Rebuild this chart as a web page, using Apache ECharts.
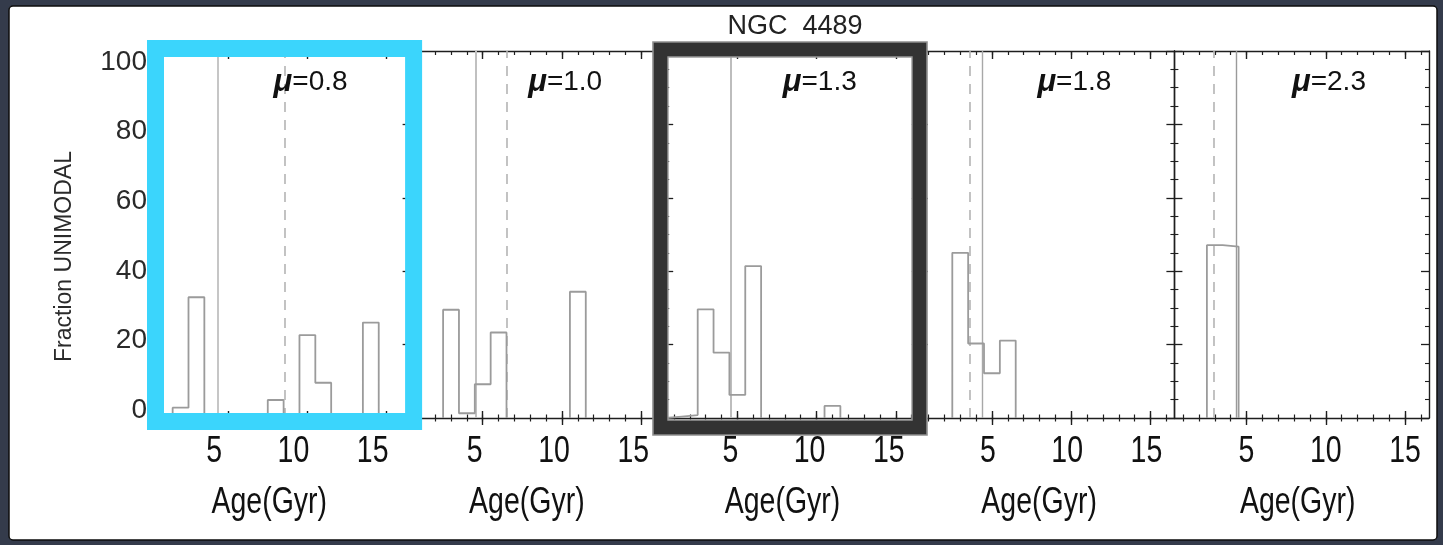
<!DOCTYPE html>
<html>
<head>
<meta charset="utf-8">
<script src="https://cdn.jsdelivr.net/npm/echarts@6/dist/echarts.min.js"></script>
<style>
html,body{margin:0;padding:0;background:#343b4b;}
#c{width:1443px;height:545px;}
</style>
</head>
<body>
<div id="c"></div>
<script>
// ---------------- DATA ----------------
const titleText = 'NGC  4489';
const xName = 'Age(Gyr)';
const yName = 'Fraction UNIMODAL';
const ageBinCenters = [1, 2, 3, 4, 5, 6, 7, 8, 9, 10, 11, 12, 13, 14, 15, 16];
const panelMu = ['0.8', '1.0', '1.3', '1.8', '2.3'];
const fracMu08 = [0, 2.8, 32.9, 0, 0, 0, 0, 4.9, 0, 22.6, 9.6, 0, 0, 26.0, 0, 0];
const fracMu10 = [0, 0, 29.5, 1.3, 9.2, 23.3, 0, 0, 0, 0, 34.4, 0, 0, 0, 0, 0];
const fracMu13 = [0.4, 0.8, 29.6, 17.8, 6.3, 41.4, 0, 0, 0, 0, 3.3, 0, 0, 0, 0, 0];
const fracMu18 = [0, 0, 45.0, 20.3, 12.2, 21.1, 0, 0, 0, 0, 0, 0, 0, 0, 0, 0];
const fracMu23 = [0, 0, 47.1, 46.7, 0, 0, 0, 0, 0, 0, 0, 0, 0, 0, 0, 0];
const solidLineAge = [4.37, 4.55, 4.58, 4.37, 4.34];
const dashedLineAge = [8.6, 6.5, null, 3.62, 2.94];
const xTickLabels = [5, 10, 15];
const xMinorTicks = [1, 2, 3, 4, 5, 6, 7, 8, 9, 10, 11, 12, 13, 14, 15, 16];
const yTickLabels = [0, 20, 40, 60, 80, 100];
const panelValues = [fracMu08, fracMu10, fracMu13, fracMu18, fracMu23];

// ---------------- LAYOUT / STYLE ----------------
const BIN_W = 1;
const X_MIN = 0.45, X_MAX = 16.51;
const GRID_LEFT0 = 156, GRID_W = 254.6, GRID_TOP = 51, GRID_H = 367;
const MU_X = 10.2, MU_Y = 91.5;
const AX = '#1e1e1e';
const SANS = "'Liberation Sans','Helvetica',Arial,sans-serif";
const LABEL_SHIFT = [14, 8, 7, 4, 0];
const NAME_SHIFT = [14, 11, 10, 8, 4];
const LABEL_DY = 34, NAME_DY = 85, NARROW_SCALE = 0.77, BIG_FONT = 37;
const HIST_COLOR = '#9b9b9b';
const REF_SOLID = ['#c6c6c6', '#c0c0c0', '#bdbdbd', '#a8a8a8', '#9a9a9a'];
const REF_DASH = '#b4b4b4';

function histPoints(vals) {
  const pts = [];
  let inRun = false;
  for (let k = 0; k < ageBinCenters.length; k++) {
    const v = vals[k];
    const lo = ageBinCenters[k] - BIN_W / 2, hi = ageBinCenters[k] + BIN_W / 2;
    if (v > 0) {
      if (!inRun) { pts.push([lo, 0]); inRun = true; }
      pts.push([lo, v]); pts.push([hi, v]);
    } else if (inRun) {
      pts.push([lo, 0]); pts.push(null); inRun = false;
    }
  }
  if (inRun) pts.push([ageBinCenters[ageBinCenters.length - 1] + BIN_W / 2, 0]);
  return pts;
}

function tickAxis(gi, pos, offset, len, values, width) {
  return {
    gridIndex: gi, type: 'value', min: X_MIN, max: X_MAX, position: pos, offset: offset,
    axisLine: { show: false, onZero: false },
    axisTick: { show: true, inside: true, length: len, customValues: values, lineStyle: { color: AX, width: width || 1.2 } },
    axisLabel: { show: false }, splitLine: { show: false }
  };
}

const grids = [], xAxes = [], yAxes = [], series = [];
const xMainIdx = [], yMainIdx = [];
for (let i = 0; i < 5; i++) {
  const left = GRID_LEFT0 + i * GRID_W;
  grids.push({ left: left, top: GRID_TOP, width: GRID_W, height: GRID_H, show: false });
  const xMain = xAxes.length;
  xMainIdx.push(xMain);
  xAxes.push({
    gridIndex: i, type: 'value', min: X_MIN, max: X_MAX, position: 'bottom',
    axisLine: { show: true, onZero: false, lineStyle: { color: AX, width: 1.4 } },
    axisTick: { show: false }, splitLine: { show: false }, axisLabel: { show: false }
  });
  xAxes.push(tickAxis(i, 'bottom', 3.5, 7, xMinorTicks));
  xAxes.push(tickAxis(i, 'bottom', 7, 14, xTickLabels, 1.4));
  xAxes.push({
    gridIndex: i, type: 'value', min: X_MIN, max: X_MAX, position: 'top',
    axisLine: { show: true, onZero: false, lineStyle: { color: AX, width: 1.4 } },
    axisTick: { show: true, inside: true, length: 4, customValues: xMinorTicks, lineStyle: { color: AX, width: 1.2 } },
    axisLabel: { show: false }, splitLine: { show: false }
  });
  xAxes.push(tickAxis(i, 'top', 0, 8, xTickLabels, 1.4));

  const yMain = yAxes.length;
  yMainIdx.push(yMain);
  const yBase = {
    gridIndex: i, type: 'value', min: 0, max: 100, interval: 20,
    axisLine: { show: true, onZero: false, lineStyle: { color: AX, width: 1.4 } },
    axisTick: { show: true, inside: true, length: 8, lineStyle: { color: AX, width: 1.3 } },
    minorTick: { show: true, splitNumber: 4, length: 4, lineStyle: { color: AX, width: 1.1 } },
    axisLabel: { show: false }, splitLine: { show: false }, minorSplitLine: { show: false }
  };
  yAxes.push(Object.assign({}, yBase, { position: 'left' }));
  yAxes.push(Object.assign({}, yBase, { position: 'right' }));
  if (i === 0) {
    yAxes.push({
      gridIndex: 0, type: 'value', min: -2.3, max: 103.2, position: 'left',
      axisLine: { show: false, onZero: false }, axisTick: { show: false }, splitLine: { show: false },
      axisLabel: { show: true, customValues: yTickLabels, margin: 9, fontSize: 28, fontFamily: SANS, color: '#2a2a2a' },
      name: yName, nameLocation: 'middle', nameGap: 80, nameRotate: 90,
      nameTextStyle: { fontSize: 23, fontFamily: SANS, color: '#2a2a2a', padding: [0, 44, 0, 0] }
    });
  }

  const mlData = [{ xAxis: solidLineAge[i], lineStyle: { type: 'solid', color: REF_SOLID[i], width: i < 3 ? 2 : 1.4 } }];
  if (dashedLineAge[i] !== null) {
    mlData.push({ xAxis: dashedLineAge[i], lineStyle: { type: [10, 8], color: REF_DASH, width: 1.6 } });
  }
  series.push({
    type: 'line', xAxisIndex: xMain, yAxisIndex: yMain, data: histPoints(panelValues[i]),
    showSymbol: false, symbol: 'none', connectNulls: false, silent: true, z: 3,
    lineStyle: { color: HIST_COLOR, width: 1.8 },
    markLine: { silent: true, symbol: ['none', 'none'], label: { show: false }, data: mlData, z: 2 }
  });
  series.push({
    type: 'scatter', xAxisIndex: xMain, yAxisIndex: yMain, data: [[MU_X, MU_Y]],
    symbolSize: 1, itemStyle: { color: 'rgba(0,0,0,0)', opacity: 1 }, silent: true,
    label: {
      show: true, position: 'inside', opacity: 1,
      formatter: '{m|\u03bc}{t|=' + panelMu[i] + '}',
      rich: {
        m: { fontSize: 31, fontStyle: 'italic', fontWeight: 'bold', fontFamily: SANS, color: '#111' },
        t: { fontSize: 28, fontFamily: SANS, color: '#111' }
      }
    }
  });
}

const g0L = GRID_LEFT0, g2L = GRID_LEFT0 + 2 * GRID_W;
const graphics = [
  { type: 'rect', z: -10, shape: { x: 9, y: 6, width: 1428, height: 534, r: 4 },
    style: { fill: '#ffffff', stroke: '#0d0d0d', lineWidth: 1.5 } },
  { type: 'text', z: 50, x: 795, y: 27,
    style: { text: titleText, fontSize: 27, fontFamily: SANS, fill: '#222', align: 'center', verticalAlign: 'middle' } },
  { type: 'rect', z: 100, shape: { x: g0L - 0.5, y: GRID_TOP - 2.5, width: GRID_W + 3.5, height: GRID_H + 6 },
    style: { fill: 'none', stroke: '#3bd5fc', lineWidth: 17 } },
  { type: 'rect', z: 100, shape: { x: g2L - 4.7, y: GRID_TOP - 1.5, width: GRID_W + 4.4, height: GRID_H + 11 },
    style: { fill: 'none', stroke: '#333333', lineWidth: 15 } },
  { type: 'rect', z: 101, shape: { x: g2L - 12.2, y: GRID_TOP - 9, width: GRID_W + 19.4, height: GRID_H + 26 },
    style: { fill: 'none', stroke: '#8e8e8e', lineWidth: 1.6 } },
  { type: 'rect', z: 101, shape: { x: g2L + 2.8, y: GRID_TOP + 6, width: GRID_W - 10.6, height: GRID_H - 4 },
    style: { fill: 'none', stroke: '#9a9a9a', lineWidth: 1.4 } }
];

const chart = echarts.init(document.getElementById('c'), null, { renderer: 'canvas' });
chart.setOption({
  animation: false,
  backgroundColor: '#343b4b',
  grid: grids, xAxis: xAxes, yAxis: yAxes, series: series,
  graphic: graphics
});

// condensed x tick labels and axis names, positioned through the axes' own scales
const texts = [];
for (let i = 0; i < 5; i++) {
  const yBottom = chart.convertToPixel({ yAxisIndex: yMainIdx[i] }, 0);
  xTickLabels.forEach(function (v) {
    const px = chart.convertToPixel({ xAxisIndex: xMainIdx[i] }, v);
    texts.push({ type: 'text', z: 60, x: px - LABEL_SHIFT[i], y: yBottom + LABEL_DY, scaleX: NARROW_SCALE,
      style: { text: String(v), fontSize: BIG_FONT, fontFamily: SANS, fill: '#111', align: 'center', verticalAlign: 'middle' } });
  });
  const mid = chart.convertToPixel({ xAxisIndex: xMainIdx[i] }, (X_MIN + X_MAX) / 2);
  texts.push({ type: 'text', z: 60, x: mid - NAME_SHIFT[i], y: yBottom + NAME_DY, scaleX: NARROW_SCALE,
    style: { text: xName, fontSize: BIG_FONT, fontFamily: SANS, fill: '#111', align: 'center', verticalAlign: 'middle' } });
}
chart.setOption({ graphic: graphics.concat(texts) });
</script>
</body>
</html>
